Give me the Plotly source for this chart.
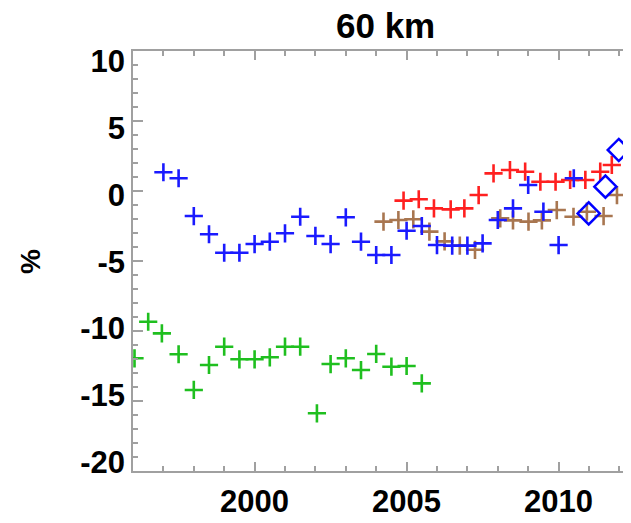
import plotly.graph_objects as go

# ---- data ----
blue_years = [1997.0, 1997.5, 1998.0, 1998.5, 1999.0, 1999.5, 2000.0, 2000.5, 2001.0, 2001.5,
              2002.0, 2002.5, 2003.0, 2003.5, 2004.0, 2004.5, 2005.0, 2005.5, 2006.0, 2006.5,
              2007.0, 2007.5, 2008.0, 2008.5, 2009.0, 2009.5, 2010.0, 2010.5]
blue_vals = [1.34, 0.91, -1.79, -3.09, -4.41, -4.41, -3.79, -3.62, -3.02, -1.84,
             -3.21, -3.79, -1.88, -3.62, -4.57, -4.57, -2.84, -2.5, -3.86, -3.9,
             -3.9, -3.74, -2.07, -1.24, 0.43, -1.48, -3.86, 0.91]

green_years = [1996.05, 1996.5, 1996.95, 1997.5, 1998.0, 1998.5, 1999.0, 1999.5, 2000.0, 2000.5,
               2001.0, 2001.5, 2002.05, 2002.5, 2003.0, 2003.5, 2004.0, 2004.5, 2005.0, 2005.5]
green_vals = [-11.95, -9.34, -10.17, -11.66, -14.21, -12.43, -11.12, -12.02, -12.02, -11.88,
              -11.12, -11.12, -15.88, -12.36, -11.95, -12.79, -11.64, -12.55, -12.5, -13.74]

red_years = [2004.9, 2005.4, 2005.9, 2006.45, 2006.9, 2007.37, 2007.86, 2008.4, 2008.9, 2009.4,
             2009.9, 2010.38, 2010.88, 2011.37, 2011.75]
red_vals = [-0.69, -0.59, -1.24, -1.31, -1.24, -0.29, 1.26, 1.5, 1.38, 0.66,
            0.66, 0.79, 0.79, 1.38, 1.86]

brown_years = [2004.24, 2004.73, 2005.22, 2005.75, 2006.25, 2006.75, 2007.25, 2008.08, 2008.5,
               2009.01, 2009.45, 2009.94, 2010.49, 2010.93, 2011.48, 2011.92]
brown_vals = [-2.19, -2.07, -2.02, -2.9, -3.6, -3.9, -4.2, -1.95, -2.1,
              -2.19, -2.1, -1.36, -1.84, -1.48, -1.79, -0.29]

diamond_years = [2010.99, 2011.54, 2011.98]
diamond_vals = [-1.6, 0.31, 2.93]

title_text = "60 km"
y_title = "%"
x_tickvals = [2000, 2005, 2010]
y_tickvals = [10, 5, 0, -5, -10, -15, -20]

FONT = "Liberation Sans"
AXC = "#a0a0a0"

fig = go.Figure()

def plus_trace(x, y, color):
    return go.Scatter(x=x, y=y, mode="markers",
                      marker=dict(symbol="cross-thin-open", size=13, color=color,
                                  line=dict(color=color, width=2.6)),
                      showlegend=False, cliponaxis=True)

fig.add_trace(plus_trace(green_years, green_vals, "#1fbf1f"))
fig.add_trace(plus_trace(red_years, red_vals, "#ff2020"))
fig.add_trace(plus_trace(brown_years, brown_vals, "#a87650"))
fig.add_trace(plus_trace(blue_years, blue_vals, "#1a1aff"))
fig.add_trace(go.Scatter(x=diamond_years, y=diamond_vals, mode="markers",
                         marker=dict(symbol="diamond-open", size=17, color="#0000ff",
                                     line=dict(color="#0000ff", width=2.5)),
                         showlegend=False))

# invisible trace on label axis so it renders
fig.add_trace(go.Scatter(x=[2000], y=[0], yaxis="y2", mode="markers",
                         marker=dict(opacity=0), showlegend=False, hoverinfo="skip"))

OFF = 8  # page body margin
W, H = 631 - OFF, 523 - OFF
L, T = 133 - OFF, 51 - OFF
R = 0
B = H - (471 - OFF)
x0 = 1996.0
px_per_year = 30.4
x1 = x0 + (W - L - R) / px_per_year
PW, PH = W - L - R, H - T - B

fig.update_layout(
    width=W, height=H,
    margin=dict(l=L, r=R, t=T, b=B, autoexpand=False),
    paper_bgcolor="white", plot_bgcolor="white",
    font=dict(family=FONT, size=31, color="black", weight="bold"),
    xaxis=dict(range=[x0, x1], tickmode="array", tickvals=x_tickvals,
               ticktext=[str(v) for v in x_tickvals], automargin=False,
               ticks="inside", ticklen=9, tickwidth=1.5, tickcolor=AXC,
               minor=dict(dtick=1, tick0=1996, ticks="inside", ticklen=5, tickwidth=1.5, tickcolor=AXC),
               showline=True, linecolor=AXC, linewidth=1.5, mirror="ticks",
               showgrid=False, zeroline=False,
               tickfont=dict(family=FONT, size=31, color="black", weight="bold"),
               ticklabelstandoff=2),
    yaxis=dict(range=[-20, 10], tick0=0, dtick=5, automargin=False,
               ticks="inside", ticklen=10, tickwidth=1.5, tickcolor=AXC,
               minor=dict(dtick=1, tick0=0, ticks="inside", ticklen=5, tickwidth=1.5, tickcolor=AXC),
               showline=True, linecolor=AXC, linewidth=1.5, mirror=False,
               showgrid=False, zeroline=False, showticklabels=False),
    yaxis2=dict(overlaying="y", side="left", anchor="x", automargin=False,
                range=[-20.67, 10.77], tickmode="array", tickvals=y_tickvals,
                ticktext=[str(v) for v in y_tickvals],
                ticks="", showline=False, showgrid=False, zeroline=False,
                ticklabelstandoff=7,
                tickfont=dict(family=FONT, size=31, color="black", weight="bold")),
    annotations=[
        dict(text=title_text, xref="paper", yref="paper",
             x=(385 - OFF - L) / PW, y=1 + (T - (26 - OFF)) / PH,
             xanchor="center", yanchor="middle", showarrow=False,
             font=dict(family=FONT, size=35, color="black", weight="bold")),
        dict(text=y_title, xref="paper", yref="paper",
             x=(30 - OFF - L) / PW, y=1 - (262 - OFF - T) / PH,
             xanchor="center", yanchor="middle", textangle=-90, showarrow=False,
             font=dict(family=FONT, size=28, color="black", weight="bold")),
    ],
)

fig.write_html("out.html")
